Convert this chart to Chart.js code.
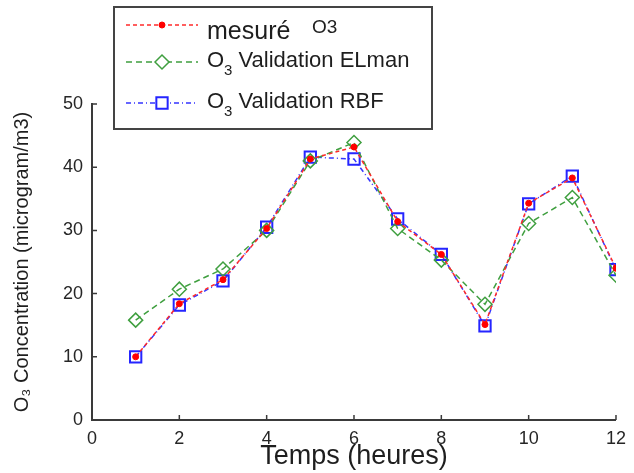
<!DOCTYPE html>
<html>
<head>
<meta charset="utf-8">
<script src="https://cdn.jsdelivr.net/npm/chart.js@4.4.0/dist/chart.umd.min.js"></script>
<style>
html, body { margin: 0; padding: 0; background: #fff; }
#wrap { width: 634px; height: 473px; }
</style>
</head>
<body>
<div id="wrap"><canvas id="o3Chart" width="634" height="473"></canvas></div>
<script>
// hours and ozone values
var hours = [1, 2, 3, 4, 5, 6, 7, 8, 9, 10, 11, 12];
var mesure = [10.0, 18.4, 22.2, 30.3, 41.3, 43.2, 31.4, 26.2, 15.1, 34.3, 38.3, 24.0];
var elman = [15.8, 20.7, 23.9, 30.0, 41.0, 43.9, 30.3, 25.3, 18.3, 31.1, 35.2, 22.9];
var rbf = [10.0, 18.2, 22.0, 30.5, 41.6, 41.3, 31.8, 26.2, 14.9, 34.2, 38.6, 23.8];
var xTicks = [0, 2, 4, 6, 8, 10, 12];
var yTicks = [0, 10, 20, 30, 40, 50];
var legendLabels = [["mesuré", "O3"], ["O", "3", " Validation ELman"], ["O", "3", " Validation RBF"]];

function toPoints(values) {
    var pts = [];
    for (let i = 0; i < hours.length; i++) {
        pts.push({ x: hours[i], y: values[i] });
    }
    return pts;
}

var axisColor = '#3a3a3a';
var fontFamily = '"Liberation Sans", Arial, sans-serif';

// matlab style ticks pointing into the plot
var innerTicks = {
    id: 'innerTicks',
    afterDraw: function (chart) {
        var ctx = chart.ctx;
        var xs = chart.scales.x, ys = chart.scales.y;
        ctx.save();
        ctx.strokeStyle = axisColor;
        ctx.lineWidth = 1.5;
        ctx.beginPath();
        xTicks.forEach(function (t) {
            var px = xs.getPixelForValue(t);
            ctx.moveTo(px, ys.bottom);
            ctx.lineTo(px, ys.bottom - 5);
        });
        yTicks.forEach(function (t) {
            var py = ys.getPixelForValue(t);
            ctx.moveTo(xs.left, py);
            ctx.lineTo(xs.left + 5, py);
        });
        ctx.stroke();
        ctx.restore();
    }
};

// boxed legend in the top left like the original figure
var boxLegend = {
    id: 'boxLegend',
    afterDraw: function (chart) {
        var ctx = chart.ctx;
        var left = 114, top = 7, width = 318, height = 122;
        ctx.save();
        ctx.fillStyle = '#fff';
        ctx.fillRect(left, top, width, height);
        ctx.strokeStyle = '#444';
        ctx.lineWidth = 2;
        ctx.strokeRect(left, top, width, height);

        var rowsY = [25, 62, 103];
        chart.data.datasets.forEach(function (ds, i) {
            var y = rowsY[i];
            ctx.strokeStyle = ds.borderColor;
            ctx.lineWidth = ds.borderWidth;
            ctx.setLineDash(ds.borderDash);
            ctx.beginPath();
            ctx.moveTo(126, y);
            ctx.lineTo(198, y);
            ctx.stroke();
            ctx.setLineDash([]);
            ctx.fillStyle = 'rgba(255,255,255,1)';
            if (ds.pointStyle == 'circle') ctx.fillStyle = ds.pointBackgroundColor;
            ctx.strokeStyle = ds.pointBorderColor;
            ctx.lineWidth = ds.pointBorderWidth;
            Chart.helpers.drawPoint(ctx, {
                pointStyle: ds.pointStyle,
                radius: ds.pointRadius,
                rotation: 0,
                borderWidth: ds.pointBorderWidth
            }, 162, y);

            var parts = legendLabels[i];
            ctx.fillStyle = '#1e1e1e';
            ctx.textBaseline = 'alphabetic';
            ctx.textAlign = 'left';
            if (i == 0) {
                ctx.font = '25px ' + fontFamily;
                ctx.fillText(parts[0], 207, y + 14);
                ctx.font = '19px ' + fontFamily;
                ctx.fillText(parts[1], 312, y + 8);
            } else {
                var x = 207;
                ctx.font = '22px ' + fontFamily;
                ctx.fillText(parts[0], x, y + 5);
                x += ctx.measureText(parts[0]).width;
                ctx.font = '15px ' + fontFamily;
                ctx.fillText(parts[1], x, y + 13);
                x += ctx.measureText(parts[1]).width;
                ctx.font = '22px ' + fontFamily;
                ctx.fillText(parts[2], x, y + 5);
            }
        });
        ctx.restore();
    }
};

var ctx = document.getElementById('o3Chart').getContext('2d');
var o3Chart = new Chart(ctx, {
    type: 'line',
    data: {
        datasets: [{
            label: 'mesuré O3',
            data: toPoints(mesure),
            borderColor: '#ff2a2a',
            borderWidth: 1.5,
            borderDash: [4, 3],
            pointStyle: 'circle',
            pointRadius: 3,
            pointBackgroundColor: '#ff0000',
            pointBorderColor: '#ff0000',
            pointBorderWidth: 1,
            fill: false,
            tension: 0
        }, {
            label: 'O₃ Validation ELman',
            data: toPoints(elman),
            borderColor: '#3f9f3f',
            borderWidth: 1.5,
            borderDash: [6, 4],
            pointStyle: 'rectRot',
            pointRadius: 7,
            pointBackgroundColor: 'rgba(0,0,0,0)',
            pointBorderColor: '#3f9f3f',
            pointBorderWidth: 1.5,
            fill: false,
            tension: 0
        }, {
            label: 'O₃ Validation RBF',
            data: toPoints(rbf),
            borderColor: '#3535ff',
            borderWidth: 1.5,
            borderDash: [5, 3, 1, 3],
            pointStyle: 'rect',
            pointRadius: 8,
            pointBackgroundColor: 'rgba(0,0,0,0)',
            pointBorderColor: '#2525ff',
            pointBorderWidth: 2,
            fill: false,
            tension: 0
        }]
    },
    options: {
        responsive: false,
        animation: false,
        layout: {
            padding: { left: 0, right: 15, top: 104, bottom: 0 }
        },
        scales: {
            x: {
                type: 'linear',
                min: 0,
                max: 12,
                afterFit: function (scale) { scale.height = 53; },
                afterBuildTicks: function (scale) {
                    scale.ticks = xTicks.map(function (v) { return { value: v }; });
                },
                grid: { display: false, drawTicks: false },
                border: { display: true, color: axisColor, width: 2 },
                ticks: {
                    padding: 8,
                    color: '#262626',
                    font: { family: fontFamily, size: 18 }
                },
                title: {
                    display: true,
                    text: 'Temps (heures)',
                    color: '#1e1e1e',
                    padding: { top: 0, bottom: 0 },
                    font: { family: fontFamily, size: 27 }
                }
            },
            y: {
                min: 0,
                max: 50,
                afterFit: function (scale) { scale.width = 92; },
                afterBuildTicks: function (scale) {
                    scale.ticks = yTicks.map(function (v) { return { value: v }; });
                },
                grid: { display: false, drawTicks: false },
                border: { display: true, color: axisColor, width: 2 },
                ticks: {
                    padding: 9,
                    color: '#262626',
                    font: { family: fontFamily, size: 18 }
                },
                title: {
                    display: true,
                    text: 'O₃ Concentration (microgram/m3)',
                    color: '#1e1e1e',
                    padding: { top: 10, bottom: 0 },
                    font: { family: fontFamily, size: 20 }
                }
            }
        },
        plugins: {
            legend: { display: false },
            tooltip: { enabled: false }
        }
    },
    plugins: [innerTicks, boxLegend]
});
</script>
</body>
</html>
